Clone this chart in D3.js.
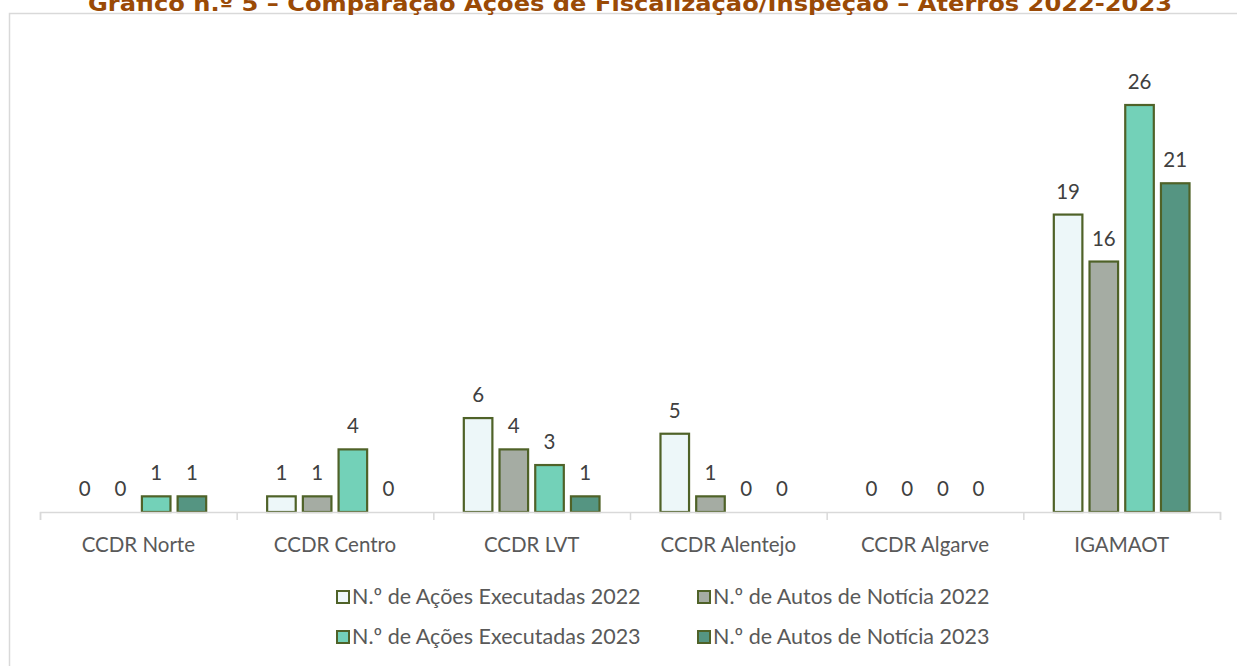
<!DOCTYPE html>
<html>
<head>
<meta charset="utf-8">
<script src="https://cdn.jsdelivr.net/npm/d3@7"></script>
<style>
  body { margin: 0; background: #fff; }
  svg { display: block; }
</style>
</head>
<body>
<svg id="chart"></svg>
<script>
var categories = ["CCDR Norte", "CCDR Centro", "CCDR LVT", "CCDR Alentejo", "CCDR Algarve", "IGAMAOT"];
var seriesNames = ["N.º de Ações Executadas 2022", "N.º de Autos de Notícia 2022",
                   "N.º de Ações Executadas 2023", "N.º de Autos de Notícia 2023"];
var acoes2022 = [0, 1, 6, 5, 0, 19];
var autos2022 = [0, 1, 4, 1, 0, 16];
var acoes2023 = [1, 4, 3, 0, 0, 26];
var autos2023 = [1, 0, 1, 0, 0, 21];
var seriesValues = [acoes2022, autos2022, acoes2023, autos2023];
var colors = ["#EDF7F9", "#A5ACA3", "#73D1B8", "#559582"];
var titleText = "Gráfico n.º 5 – Comparação Ações de Fiscalização/Inspeção – Aterros 2022-2023";

var svgWidth = 1237, svgHeight = 666;
var font = "Lato";
var svg = d3.select("#chart").attr("width", svgWidth).attr("height", svgHeight);

// chart frame
svg.append("rect")
  .attr("x", 9.5).attr("y", 13.5)
  .attr("width", 1240).attr("height", 700)
  .attr("fill", "#fff").attr("stroke", "#d9d9d9").attr("stroke-width", 1.5);

// title (cut off at top like the source)
svg.append("text")
  .attr("x", 630).attr("y", 11)
  .attr("text-anchor", "middle")
  .attr("font-family", "DejaVu Sans")
  .attr("font-weight", "bold")
  .attr("font-size", 22)
  .attr("textLength", 1084)
  .attr("lengthAdjust", "spacingAndGlyphs")
  .attr("fill", "#9A4A06")
  .text(titleText);

var x0 = d3.scaleBand().domain(categories).range([40, 1220]).paddingInner(0.31).paddingOuter(0.155);
var x1 = d3.scaleBand().domain(d3.range(4)).range([0, x0.bandwidth()]).paddingInner(0.2);
var y = d3.scaleLinear().domain([0, 26]).range([512, 105]);

var data = [];
categories.forEach(function(c, i) {
  seriesValues.forEach(function(s, j) {
    data.push({ cat: c, s: j, value: s[i] });
  });
});

var bars = svg.append("g");
bars.selectAll("rect")
  .data(data.filter(function(d) { return d.value > 0; }))
  .enter().append("rect")
  .attr("x", function(d) { return x0(d.cat) + x1(d.s); })
  .attr("y", function(d) { return y(d.value); })
  .attr("width", x1.bandwidth())
  .attr("height", function(d) { return y(0) - y(d.value); })
  .attr("fill", function(d) { return colors[d.s]; })
  .attr("stroke", "#4F6228")
  .attr("stroke-width", 2.2);

// axis
var axis = d3.axisBottom(d3.scaleLinear().domain([0, 6]).range([40, 1220]))
  .ticks(6).tickSize(8).tickFormat("");
var ax = svg.append("g").attr("transform", "translate(0,512)").call(axis);
ax.select(".domain").attr("stroke", "#d9d9d9").attr("stroke-width", 1.5);
ax.selectAll(".tick line").attr("stroke", "#d9d9d9").attr("stroke-width", 1.5);

svg.append("g").selectAll("text")
  .data(categories).enter().append("text")
  .attr("x", function(d) { return x0(d) + x0.bandwidth() / 2; })
  .attr("y", 552)
  .attr("text-anchor", "middle")
  .attr("font-family", font)
  .attr("font-size", 20.5)
  .attr("fill", "#595959")
  .text(function(d) { return d; });

// value labels
svg.append("g").selectAll("text")
  .data(data).enter().append("text")
  .attr("x", function(d) { return x0(d.cat) + x1(d.s) + x1.bandwidth() / 2; })
  .attr("y", function(d) { return y(d.value) - 16; })
  .attr("text-anchor", "middle")
  .attr("font-family", font)
  .attr("font-size", 20.5)
  .attr("fill", "#404040")
  .text(function(d) { return d.value; });

// legend
var legendPos = [[336, 597], [697, 597], [336, 637], [697, 637]];
var legend = svg.append("g").selectAll("g")
  .data(seriesNames).enter().append("g")
  .attr("transform", function(d, i) { return "translate(" + legendPos[i][0] + "," + legendPos[i][1] + ")"; });
legend.append("rect")
  .attr("x", 1).attr("y", -6).attr("width", 12).attr("height", 12)
  .attr("fill", function(d, i) { return colors[i]; })
  .attr("stroke", "#4F6228").attr("stroke-width", 2);
legend.append("text")
  .attr("x", 16).attr("y", 7)
  .attr("font-family", font)
  .attr("font-size", 21.5)
  .attr("fill", "#595959")
  .text(function(d) { return d; });
</script>
</body>
</html>
